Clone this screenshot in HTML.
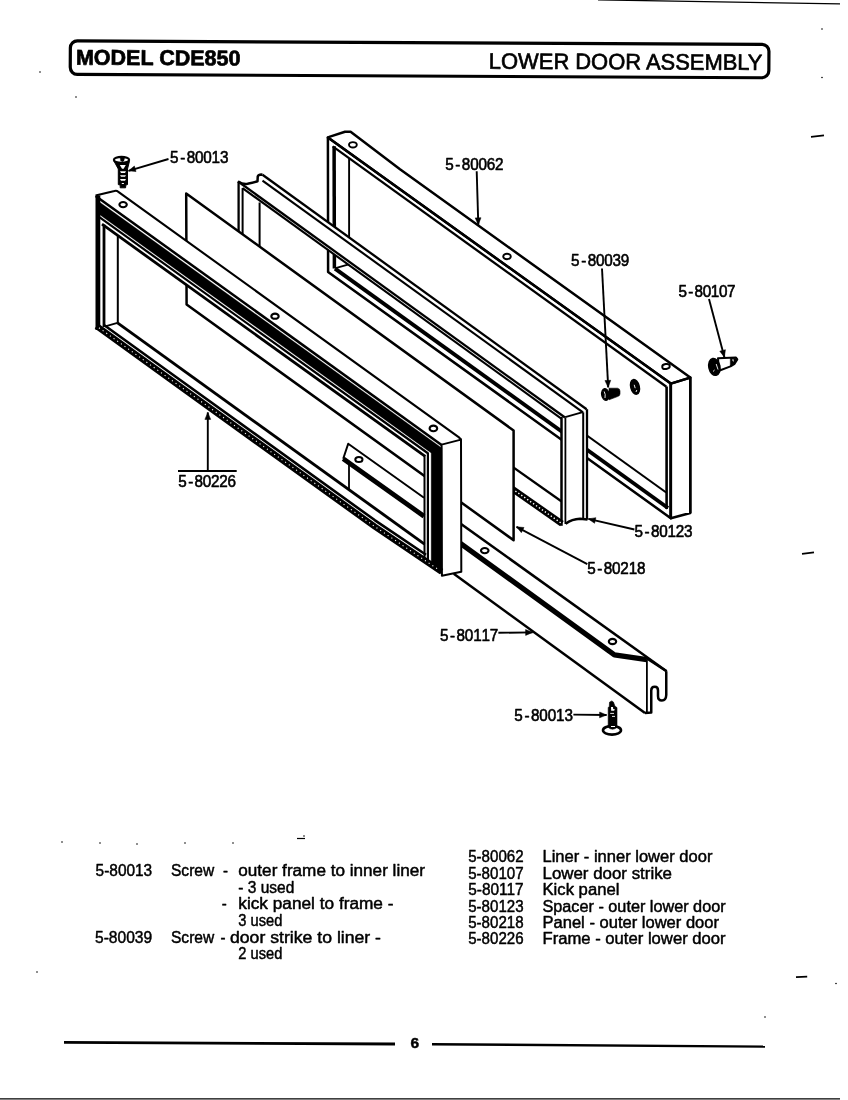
<!DOCTYPE html>
<html><head><meta charset="utf-8"><title>MODEL CDE850 - LOWER DOOR ASSEMBLY</title>
<style>
html,body{margin:0;padding:0;background:#fff;}
body{width:848px;height:1100px;overflow:hidden;}
svg{display:block;will-change:transform;}
</style></head><body>
<svg width="848" height="1100" viewBox="0 0 848 1100">
<rect x="0" y="0" width="848" height="1100" fill="#fff" stroke="none"/>
<g stroke="#000" fill="none" stroke-linecap="butt" stroke-linejoin="round">
<path d="M327.9 137.6 L330 136.6 L345 131.8 L350.6 131.8 L400 169.3 L690.3 377.6 L670.8 383.6 Z" stroke-width="2.5" fill="none"/>
<path d="M670.8 383.6 L690.3 377.6 L690.3 513 L670.8 518.2 Z" stroke-width="2.5" fill="none"/>
<line x1="690.3" y1="377.6" x2="690.3" y2="513" stroke-width="2.3"/>
<line x1="670.8" y1="383.6" x2="670.8" y2="518.2" stroke-width="2.5"/>
<path d="M327.9 137.6 L670.8 383.6 L670.8 518.2 L328.1 271.9 Z" stroke-width="2.5" fill="none"/>
<path d="M332.7 146.4 L666.4 386.8" stroke-width="2.3" fill="none"/>
<line x1="334.1" y1="146.2" x2="334.4" y2="268.6" stroke-width="3.5"/>
<path d="M335 268.6 L668 508" stroke-width="3.9" fill="none"/>
<line x1="666.6" y1="386.5" x2="666.6" y2="509" stroke-width="2.6"/>
<line x1="349.1" y1="158" x2="349.1" y2="264.4" stroke-width="1.9"/>
<line x1="335.6" y1="268.2" x2="348.75" y2="264.4" stroke-width="1.8"/>
<line x1="348.75" y1="264.4" x2="666.2" y2="492.5" stroke-width="2.1"/>
<ellipse cx="352.9" cy="144.8" rx="3.9" ry="2.7" stroke-width="1.9" fill="#fff"/>
<ellipse cx="507" cy="256.5" rx="3.8" ry="2.7" stroke-width="1.9" fill="#fff"/>
<ellipse cx="666" cy="366.5" rx="3.8" ry="2.5" stroke-width="1.9" fill="#fff" transform="rotate(-8 666 366.5)"/>
<path d="M238.1 181.5 L247.5 183.75 L257.5 181.25 L257.75 176.25 L261.25 174.6 L262.5 174.8 L586.6 409.2 L586.9 519.4 L580 518.75 L565.6 523.75 L562.5 526.25 L238.1 291 Z M259.4 200.29 L561.3 418.6 L561.3 501.25 L259.4 287.81 Z" fill="#fff" fill-rule="evenodd" stroke="none"/>
<path d="M238.1 181.5 Q 243 184.5 247.5 183.75 Q 254 182.5 257.5 181.25 L 257.75 176.5 Q 258.5 174.6 261.25 174.6 L 262.5 174.8" stroke-width="2.5" fill="none"/>
<line x1="262.5" y1="174.8" x2="586.6" y2="409.2" stroke-width="2.3"/>
<line x1="262.5" y1="180.6" x2="583" y2="412.3" stroke-width="2.1"/>
<line x1="238.1" y1="181.5" x2="565" y2="417.5" stroke-width="2.3"/>
<line x1="242.5" y1="188.1" x2="561.3" y2="418.6" stroke-width="2.1"/>
<line x1="238.6" y1="181.5" x2="238.6" y2="291" stroke-width="2.3"/>
<line x1="242.6" y1="188.1" x2="242.6" y2="291" stroke-width="2.0"/>
<line x1="259.6" y1="202.5" x2="259.6" y2="287.81" stroke-width="2.0"/>
<line x1="561.5" y1="417" x2="561.5" y2="525.8" stroke-width="2.5"/>
<line x1="565.4" y1="417.5" x2="565.4" y2="524" stroke-width="1.8"/>
<line x1="583.2" y1="412.3" x2="583.2" y2="519" stroke-width="2.0"/>
<line x1="587" y1="409.2" x2="587" y2="519.6" stroke-width="2.3"/>
<line x1="565.2" y1="417.2" x2="582.8" y2="412.2" stroke-width="1.9"/>
<path d="M565.6 523.75 Q 572 519 580 518.75 L 587.5 519.4" stroke-width="2.5" fill="none"/>
<line x1="259.4" y1="287.81" x2="561.3" y2="501.25" stroke-width="2.3"/>
<line x1="238.1" y1="296.94" x2="561.9" y2="523.6" stroke-width="6.3"/>
<line x1="238.1" y1="296.94" x2="561.9" y2="523.6" stroke-width="1.4" stroke="#fff" stroke-dasharray="1.4 2.2"/>
<path d="M186.2 193.5 L513.6 430.5 L513.6 540.2 L186.6 304.6 Z" stroke-width="2.5" fill="#fff"/>
<path d="M440 508.93 L666.6 671.25 L666.25 696 L646.9 713 L645 713 L453.75 573.75 L440 560 Z" stroke-width="0.1" fill="#fff" stroke="none"/>
<line x1="440" y1="508.93" x2="666.6" y2="671.25" stroke-width="2.5"/>
<path d="M440 528.55 L614.4 654.9 L646.9 659.6" stroke-width="5.2" fill="none"/>
<line x1="453.75" y1="573.75" x2="645" y2="713" stroke-width="2.5"/>
<line x1="646.9" y1="660" x2="646.9" y2="713" stroke-width="1.8"/>
<line x1="646.9" y1="658.5" x2="666.6" y2="671.25" stroke-width="2.5"/>
<path d="M666.25 671.25 L666.25 695 Q666 700.5 661.9 700.5 Q658 700.5 658 696 L658 690.5 Q658 686.8 654.8 686.8 Q651.25 686.8 651.25 690.5 L651.25 712.6 L645 713" stroke-width="2.5" fill="none"/>
<ellipse cx="484.75" cy="550.6" rx="3.8" ry="2.6" stroke-width="2.1" fill="#fff"/>
<ellipse cx="612.5" cy="641.5" rx="3.7" ry="2.6" stroke-width="2.1" fill="#fff"/>
<path d="M95.6 195.6 L116.5 190.6 L458.3 436.8 L461 439.6 L461.3 571.7 L441.9 575.8 L96.25 329.7 Z M117.8 235.55 L424.5 455.91 L424.5 544.1 L117.5 322.9 Z" fill="#fff" fill-rule="evenodd" stroke="none"/>
<path d="M95.6 195.6 L114.5 191 Q116.5 190.2 118 191.6 L458.3 436.8 L461 439.6" stroke-width="2.1" fill="none"/>
<line x1="95.6" y1="195.9" x2="441.6" y2="444.9" stroke-width="2.5"/>
<path d="M441.6 444.6 L461 439.6 L461.3 571.7 L441.9 575.8 Z" stroke-width="2.0" fill="none"/>
<line x1="97.9" y1="195.5" x2="97.9" y2="330" stroke-width="4.8"/>
<path d="M98 200.92 L441.8 447.94 L441.8 574.5 L431.2 567 L431.2 452.93 L98 213.52 Z" stroke-width="0.3" fill="#000"/>
<path d="M99 216.94 L427.9 453.26 L427.9 564" stroke-width="2.2" fill="none"/>
<line x1="102" y1="224.2" x2="425.2" y2="456.42" stroke-width="2.8"/>
<line x1="104" y1="224.64" x2="104" y2="327" stroke-width="2.8"/>
<line x1="117.8" y1="235.55" x2="117.8" y2="322.9" stroke-width="2.0"/>
<line x1="105.2" y1="326.3" x2="117.5" y2="322.9" stroke-width="1.8"/>
<line x1="424.5" y1="454.91" x2="424.5" y2="558" stroke-width="2.0"/>
<line x1="117.5" y1="322.9" x2="424.5" y2="544.1" stroke-width="2.9"/>
<path d="M104 325 L175 376.3 L375 520.3 L426 554.76" stroke-width="2.6" fill="none"/>
<path d="M96.5 326.03 L175 382.75 L375 526.75 L441.5 571.68" stroke-width="6.2" fill="none"/>
<path d="M99 327.79 L175 382.7 L375 526.7 L439 569.94" stroke-width="1.1" fill="none" stroke="#fff" stroke-dasharray="1.1 3.4"/>
<path d="M343.2 458.7 L348.2 443.8 L424 497.8" stroke-width="2.0" fill="none"/>
<line x1="343.2" y1="458.7" x2="424" y2="516.2" stroke-width="4.8"/>
<line x1="349" y1="462.5" x2="349" y2="489.5" stroke-width="1.8"/>
<ellipse cx="358.9" cy="459.5" rx="3.6" ry="2.5" stroke-width="2.0" fill="#fff"/>
<ellipse cx="123.1" cy="204.6" rx="3.7" ry="2.6" stroke-width="2.1" fill="#fff"/>
<ellipse cx="275" cy="316.2" rx="3.7" ry="2.6" stroke-width="2.1" fill="#fff"/>
<ellipse cx="433.4" cy="428.4" rx="3.8" ry="2.8" stroke-width="2.1" fill="#fff"/>
<path d="M114.2 161.5 L118.3 169 L118.3 184.6 L120.2 185 L120.2 187.8 L125.6 187.8 L125.8 185 L127.5 184.6 L127.5 169 L129.4 161.5 Z" stroke-width="1.0" fill="#000"/>
<path d="M119.8 165 L125.8 165 L123.6 168.8 L122 168.8 Z" stroke-width="0.1" fill="#fff" stroke="none"/>
<path d="M120 171.2 L126 171.2 L125 172.89999999999998 L121 172.89999999999998 Z" stroke-width="0.1" fill="#fff" stroke="none"/>
<path d="M120 175.2 L126 175.2 L125 176.79999999999998 L121 176.79999999999998 Z" stroke-width="0.1" fill="#fff" stroke="none"/>
<path d="M120 179 L126 179 L125 180.8 L121 180.8 Z" stroke-width="0.1" fill="#fff" stroke="none"/>
<path d="M121.8 183 L123.9 183 L123.9 184 L121.8 184 Z" stroke-width="0.1" fill="#fff" stroke="none"/>
<ellipse cx="121.5" cy="159.9" rx="7.6" ry="3.0" stroke-width="2.2" fill="#fff"/>
<path d="M120 157.5 L124.8 157.5 L124 160.6 L122.3 162 L120.6 160.6 Z" stroke-width="0.3" fill="#000"/>
<ellipse cx="612" cy="730.3" rx="9" ry="4.3" stroke-width="2.6" fill="#fff"/>
<path d="M608.2 727.4 L608.2 707.4 L609.3 706.8 L609.5 702.2 L611.8 700.9 L613.4 702 L615 706.3 L617 707.6 L617 727.4 Q612.5 731 608.2 727.4 Z" stroke-width="0.6" fill="#000"/>
<path d="M611 707 L613 707 L613.2 709 L615 709.5 L614 710.8 L611.2 710.8 Z" stroke-width="0.1" fill="#fff" stroke="none"/>
<line x1="610.2" y1="713.4" x2="614" y2="713.4" stroke-width="0.9" stroke="#fff"/>
<line x1="612" y1="716.4" x2="615" y2="716.4" stroke-width="0.9" stroke="#fff"/>
<line x1="611" y1="726.5" x2="615" y2="726.5" stroke-width="1.0" stroke="#fff"/>
<path d="M609 388.2 L617.5 388.2 Q620 388.6 620 391 L620 394 Q619.8 396 617.5 396.6 L609 399.8 Z" stroke-width="0.6" fill="#000"/>
<ellipse cx="605.4" cy="394.5" rx="3.6" ry="5.7" stroke-width="1.6" fill="#000" transform="rotate(-8 605.4 394.5)"/>
<path d="M604.2 391.5 L605.2 394.5 L605 398" stroke-width="0.9" fill="none" stroke="#fff"/>
<ellipse cx="635" cy="386.9" rx="4.2" ry="7.4" stroke-width="1.6" fill="#000" transform="rotate(-14 635 386.9)"/>
<path d="M634.2 384.8 L635.2 388.2 M636.8 390 L636 392" stroke-width="0.9" fill="none" stroke="#fff"/>
<path d="M718 358.2 L736 357.6 L737.3 359.4 L734.6 363.8 L730.5 366.4 L719 370.8 Z" stroke-width="2.0" fill="#fff"/>
<path d="M730.3 358 L737 358.4 L734.6 363.8 L730.3 366.4 Z" stroke-width="0.5" fill="#000"/>
<path d="M732 359.6 L733.8 359.6 L733.4 362 Z" stroke-width="0.1" fill="#fff" stroke="none"/>
<ellipse cx="714.4" cy="366.9" rx="5.6" ry="8.6" stroke-width="1.4" fill="#000" transform="rotate(-12 714.4 366.9)"/>
<path d="M716.2 364 L718 369.5 M713 371.5 L714.6 370" stroke-width="0.9" fill="none" stroke="#fff"/>
<text fill="#000" transform="translate(170.7 162.6) scale(0.92 1)" x="-0.76 10.25 17.32 26.36 35.4 44.44 53.48" y="0" font-family="'Liberation Sans',sans-serif" font-size="16.6" stroke="#000" stroke-width="0.6">5-80013</text>
<text fill="#000" transform="translate(445.9 169.7) scale(0.92 1)" x="-0.76 10.25 17.32 26.36 35.4 44.44 53.48" y="0" font-family="'Liberation Sans',sans-serif" font-size="16.6" stroke="#000" stroke-width="0.6">5-80062</text>
<text fill="#000" transform="translate(571.8 266.2) scale(0.92 1)" x="-0.76 10.2 17.25 26.25 35.25 44.26 53.26" y="0" font-family="'Liberation Sans',sans-serif" font-size="16.6" stroke="#000" stroke-width="0.6">5-80039</text>
<text fill="#000" transform="translate(679.1 296.9) scale(0.92 1)" x="-0.76 9.9 16.85 25.65 34.46 43.26 52.07" y="0" font-family="'Liberation Sans',sans-serif" font-size="16.6" stroke="#000" stroke-width="0.6">5-80107</text>
<text fill="#000" transform="translate(178.9 486.9) scale(0.92 1)" x="-0.76 10.06 17.07 25.98 34.89 43.8 52.72" y="0" font-family="'Liberation Sans',sans-serif" font-size="16.6" stroke="#000" stroke-width="0.6">5-80226</text>
<text fill="#000" transform="translate(635.1 537.4) scale(0.92 1)" x="-0.76 10.17 17.21 26.2 35.18 44.17 53.15" y="0" font-family="'Liberation Sans',sans-serif" font-size="16.6" stroke="#000" stroke-width="0.6">5-80123</text>
<text fill="#000" transform="translate(588 573.7) scale(0.92 1)" x="-0.76 10.17 17.21 26.2 35.18 44.17 53.15" y="0" font-family="'Liberation Sans',sans-serif" font-size="16.6" stroke="#000" stroke-width="0.6">5-80218</text>
<text fill="#000" transform="translate(440.6 640.8) scale(0.92 1)" x="-0.76 10.25 17.32 26.36 35.4 44.44 53.48" y="0" font-family="'Liberation Sans',sans-serif" font-size="16.6" stroke="#000" stroke-width="0.6">5-80117</text>
<text fill="#000" transform="translate(514.9 720.9) scale(0.92 1)" x="-0.76 10.33 17.43 26.52 35.62 44.71 53.8" y="0" font-family="'Liberation Sans',sans-serif" font-size="16.6" stroke="#000" stroke-width="0.6">5-80013</text>
<line x1="178" y1="471" x2="236.7" y2="471" stroke-width="1.9"/>
<line x1="168.5" y1="159" x2="128.5" y2="170.8" stroke-width="1.9"/>
<path d="M128.5 170.8 L134.39 166.04 L136.03 171.6 Z" stroke-width="0.5" fill="#000"/>
<line x1="476.7" y1="171.2" x2="478.3" y2="224.8" stroke-width="1.9"/>
<path d="M478.3 224.8 L475.19 217.89 L480.99 217.72 Z" stroke-width="0.5" fill="#000"/>
<line x1="602" y1="268.5" x2="608.2" y2="387.4" stroke-width="1.9"/>
<path d="M608.2 387.4 L604.94 380.56 L610.73 380.26 Z" stroke-width="0.5" fill="#000"/>
<line x1="709" y1="299" x2="724.4" y2="357.2" stroke-width="1.9"/>
<path d="M724.4 357.2 L719.81 351.17 L725.41 349.69 Z" stroke-width="0.5" fill="#000"/>
<line x1="207.8" y1="470.7" x2="207.8" y2="412.4" stroke-width="1.9"/>
<path d="M207.8 412.4 L210.7 419.4 L204.9 419.4 Z" stroke-width="0.5" fill="#000"/>
<line x1="634.4" y1="529.5" x2="588.4" y2="518.9" stroke-width="1.9"/>
<path d="M588.4 518.9 L595.87 517.65 L594.57 523.3 Z" stroke-width="0.5" fill="#000"/>
<line x1="587.3" y1="564.2" x2="516.5" y2="526.8" stroke-width="1.9"/>
<path d="M516.5 526.8 L524.04 527.51 L521.33 532.63 Z" stroke-width="0.5" fill="#000"/>
<line x1="498.4" y1="632.8" x2="532.6" y2="632.4" stroke-width="1.9"/>
<path d="M532.6 632.4 L525.63 635.38 L525.57 629.58 Z" stroke-width="0.5" fill="#000"/>
<line x1="573.4" y1="714.6" x2="606.6" y2="715" stroke-width="1.9"/>
<path d="M606.6 715 L599.57 717.82 L599.64 712.02 Z" stroke-width="0.5" fill="#000"/>
<g transform="rotate(0.283 420 59.3)">
<rect x="70.3" y="42.6" width="698.6" height="33.45" rx="7" ry="7" stroke-width="3.2" fill="none"/>
<text fill="#000" x="76" y="66.4" font-family="'Liberation Sans',sans-serif" font-size="21.5" font-weight="bold" textLength="164.4" lengthAdjust="spacingAndGlyphs" stroke="#000" stroke-width="0.7">MODEL CDE850</text>
<text fill="#000" x="488.9" y="68.3" font-family="'Liberation Sans',sans-serif" font-size="22.3" font-weight="normal" textLength="273.6" lengthAdjust="spacingAndGlyphs" stroke="#000" stroke-width="0.65">LOWER DOOR ASSEMBLY</text>
</g>
<line x1="598" y1="-0.2" x2="840" y2="3.9" stroke-width="1.2"/>
<text fill="#000" x="95.6" y="876.4" font-family="'Liberation Sans',sans-serif" font-size="15.6" font-weight="normal" textLength="56.6" lengthAdjust="spacingAndGlyphs" stroke="#000" stroke-width="0.45">5-80013</text>
<text fill="#000" x="95" y="942.5" font-family="'Liberation Sans',sans-serif" font-size="15.6" font-weight="normal" textLength="57.2" lengthAdjust="spacingAndGlyphs" stroke="#000" stroke-width="0.45">5-80039</text>
<text fill="#000" x="171" y="876.4" font-family="'Liberation Sans',sans-serif" font-size="15.6" font-weight="normal" textLength="43.2" lengthAdjust="spacingAndGlyphs" stroke="#000" stroke-width="0.45">Screw</text>
<text fill="#000" x="223" y="876.4" font-family="'Liberation Sans',sans-serif" font-size="15.6" font-weight="normal" textLength="5" lengthAdjust="spacingAndGlyphs" stroke="#000" stroke-width="0.45">-</text>
<text fill="#000" x="238.3" y="876.4" font-family="'Liberation Sans',sans-serif" font-size="15.6" font-weight="normal" textLength="186.7" lengthAdjust="spacingAndGlyphs" stroke="#000" stroke-width="0.45">outer frame to inner liner</text>
<text fill="#000" x="238.3" y="893" font-family="'Liberation Sans',sans-serif" font-size="15.6" font-weight="normal" textLength="56" lengthAdjust="spacingAndGlyphs" stroke="#000" stroke-width="0.45">- 3 used</text>
<text fill="#000" x="221.8" y="909.4" font-family="'Liberation Sans',sans-serif" font-size="15.6" font-weight="normal" textLength="5" lengthAdjust="spacingAndGlyphs" stroke="#000" stroke-width="0.45">-</text>
<text fill="#000" x="238.3" y="909.4" font-family="'Liberation Sans',sans-serif" font-size="15.6" font-weight="normal" textLength="155.2" lengthAdjust="spacingAndGlyphs" stroke="#000" stroke-width="0.45">kick panel to frame -</text>
<text fill="#000" x="238.3" y="926" font-family="'Liberation Sans',sans-serif" font-size="15.6" font-weight="normal" textLength="44" lengthAdjust="spacingAndGlyphs" stroke="#000" stroke-width="0.45">3 used</text>
<text fill="#000" x="171" y="942.5" font-family="'Liberation Sans',sans-serif" font-size="15.6" font-weight="normal" textLength="43.2" lengthAdjust="spacingAndGlyphs" stroke="#000" stroke-width="0.45">Screw</text>
<text fill="#000" x="220.6" y="942.5" font-family="'Liberation Sans',sans-serif" font-size="15.6" font-weight="normal" textLength="5" lengthAdjust="spacingAndGlyphs" stroke="#000" stroke-width="0.45">-</text>
<text fill="#000" x="230" y="942.5" font-family="'Liberation Sans',sans-serif" font-size="15.6" font-weight="normal" textLength="151" lengthAdjust="spacingAndGlyphs" stroke="#000" stroke-width="0.45">door strike to liner -</text>
<text fill="#000" x="238.3" y="958.5" font-family="'Liberation Sans',sans-serif" font-size="15.6" font-weight="normal" textLength="44" lengthAdjust="spacingAndGlyphs" stroke="#000" stroke-width="0.45">2 used</text>
<text fill="#000" x="468.2" y="862.4" font-family="'Liberation Sans',sans-serif" font-size="15.6" font-weight="normal" textLength="55.4" lengthAdjust="spacingAndGlyphs" stroke="#000" stroke-width="0.45">5-80062</text>
<text fill="#000" x="542.5" y="862.4" font-family="'Liberation Sans',sans-serif" font-size="15.6" font-weight="normal" textLength="169.9" lengthAdjust="spacingAndGlyphs" stroke="#000" stroke-width="0.45">Liner - inner lower door</text>
<text fill="#000" x="468.2" y="879" font-family="'Liberation Sans',sans-serif" font-size="15.6" font-weight="normal" textLength="55.4" lengthAdjust="spacingAndGlyphs" stroke="#000" stroke-width="0.45">5-80107</text>
<text fill="#000" x="542.5" y="879" font-family="'Liberation Sans',sans-serif" font-size="15.6" font-weight="normal" textLength="129.5" lengthAdjust="spacingAndGlyphs" stroke="#000" stroke-width="0.45">Lower door strike</text>
<text fill="#000" x="468.2" y="895.3" font-family="'Liberation Sans',sans-serif" font-size="15.6" font-weight="normal" textLength="55.4" lengthAdjust="spacingAndGlyphs" stroke="#000" stroke-width="0.45">5-80117</text>
<text fill="#000" x="542.5" y="895.3" font-family="'Liberation Sans',sans-serif" font-size="15.6" font-weight="normal" textLength="76.9" lengthAdjust="spacingAndGlyphs" stroke="#000" stroke-width="0.45">Kick panel</text>
<text fill="#000" x="468.2" y="911.6" font-family="'Liberation Sans',sans-serif" font-size="15.6" font-weight="normal" textLength="55.4" lengthAdjust="spacingAndGlyphs" stroke="#000" stroke-width="0.45">5-80123</text>
<text fill="#000" x="542.5" y="911.6" font-family="'Liberation Sans',sans-serif" font-size="15.6" font-weight="normal" textLength="183.1" lengthAdjust="spacingAndGlyphs" stroke="#000" stroke-width="0.45">Spacer - outer lower door</text>
<text fill="#000" x="468.2" y="927.8" font-family="'Liberation Sans',sans-serif" font-size="15.6" font-weight="normal" textLength="55.4" lengthAdjust="spacingAndGlyphs" stroke="#000" stroke-width="0.45">5-80218</text>
<text fill="#000" x="542.5" y="927.8" font-family="'Liberation Sans',sans-serif" font-size="15.6" font-weight="normal" textLength="176.5" lengthAdjust="spacingAndGlyphs" stroke="#000" stroke-width="0.45">Panel - outer lower door</text>
<text fill="#000" x="468.2" y="944.2" font-family="'Liberation Sans',sans-serif" font-size="15.6" font-weight="normal" textLength="55.4" lengthAdjust="spacingAndGlyphs" stroke="#000" stroke-width="0.45">5-80226</text>
<text fill="#000" x="542.5" y="944.2" font-family="'Liberation Sans',sans-serif" font-size="15.6" font-weight="normal" textLength="183.1" lengthAdjust="spacingAndGlyphs" stroke="#000" stroke-width="0.45">Frame - outer lower door</text>
<line x1="64" y1="1042.3" x2="395" y2="1044" stroke-width="2.8"/>
<line x1="432" y1="1044.2" x2="765" y2="1046.6" stroke-width="2.4"/>
<text fill="#000" x="410.6" y="1047.6" font-family="'Liberation Sans',sans-serif" font-size="15.5" font-weight="bold" textLength="8.6" lengthAdjust="spacingAndGlyphs" stroke="#000" stroke-width="0.5">6</text>
<line x1="0" y1="1098.8" x2="840" y2="1098.8" stroke-width="1.3"/>
<line x1="811" y1="136.9" x2="824" y2="135.4" stroke-width="1.9"/>
<line x1="802" y1="553.9" x2="814" y2="552.4" stroke-width="1.9"/>
<line x1="796" y1="977.1" x2="807.2" y2="976.6" stroke-width="1.9"/>
<circle cx="822" cy="29" r="0.8" fill="#000" stroke="none"/>
<circle cx="822" cy="77.5" r="0.8" fill="#000" stroke="none"/>
<circle cx="836" cy="983.5" r="0.8" fill="#000" stroke="none"/>
<circle cx="76" cy="97" r="0.8" fill="#000" stroke="none"/>
<circle cx="40" cy="72" r="0.8" fill="#000" stroke="none"/>
<circle cx="304" cy="836" r="0.8" fill="#000" stroke="none"/>
<circle cx="137" cy="844" r="0.8" fill="#000" stroke="none"/>
<circle cx="233" cy="843" r="0.8" fill="#000" stroke="none"/>
<circle cx="185" cy="843" r="0.8" fill="#000" stroke="none"/>
<circle cx="100" cy="843" r="0.8" fill="#000" stroke="none"/>
<circle cx="765" cy="1017" r="0.8" fill="#000" stroke="none"/>
<circle cx="37" cy="972" r="0.8" fill="#000" stroke="none"/>
<circle cx="62" cy="842" r="0.8" fill="#000" stroke="none"/>
<line x1="297" y1="838.5" x2="305" y2="838.5" stroke-width="1.2"/>
</g>
</svg>
</body></html>
